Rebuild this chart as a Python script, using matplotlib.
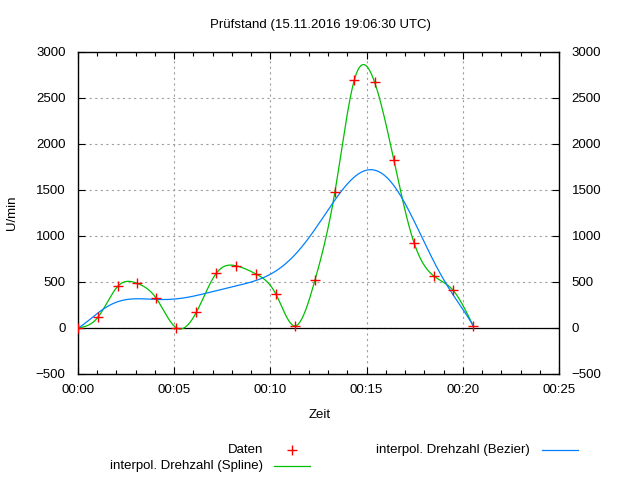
import math
import numpy as np
import matplotlib
matplotlib.use('Agg')
import matplotlib.pyplot as plt
from matplotlib.lines import Line2D
from matplotlib.ticker import MultipleLocator, FuncFormatter

plt.rcParams['font.family'] = ['Liberation Sans', 'DejaVu Sans']

# Messwerte (Zeit in Sekunden, Drehzahl in U/min)
zeit_s = [0, 62, 124, 185, 244, 306, 369, 431, 493, 554, 617,
          676, 739, 801, 862, 925, 985, 1048, 1110, 1170, 1232]
drehzahl = [0, 116, 452, 484, 322, 3, 170, 593, 675, 588, 368,
            22, 520, 1473, 2697, 2669, 1823, 924, 563, 408, 25]

titel = 'Prüfstand (15.11.2016 19:06:30 UTC)'


def natural_spline(x, y, xs):
    # natuerlicher kubischer Spline wie gnuplot "smooth csplines"
    x = np.asarray(x, float)
    y = np.asarray(y, float)
    n = len(x)
    h = np.diff(x)
    A = np.zeros((n, n))
    b = np.zeros(n)
    A[0, 0] = 1
    A[-1, -1] = 1
    for i in range(1, n - 1):
        A[i, i - 1] = h[i - 1]
        A[i, i] = 2 * (h[i - 1] + h[i])
        A[i, i + 1] = h[i]
        b[i] = 6 * ((y[i + 1] - y[i]) / h[i] - (y[i] - y[i - 1]) / h[i - 1])
    M = np.linalg.solve(A, b)
    idx = np.clip(np.searchsorted(x, xs) - 1, 0, n - 2)
    x0, x1 = x[idx], x[idx + 1]
    hh = x1 - x0
    t0 = x1 - xs
    t1 = xs - x0
    return (M[idx] * t0**3 / (6 * hh) + M[idx + 1] * t1**3 / (6 * hh)
            + (y[idx] / hh - M[idx] * hh / 6) * t0
            + (y[idx + 1] / hh - M[idx + 1] * hh / 6) * t1)


def bezier(x, y, num=300):
    # Bezier-Kurve ueber alle Punkte wie gnuplot "smooth bezier"
    n = len(x) - 1
    t = np.linspace(0, 1, num)
    bx = np.zeros(num)
    by = np.zeros(num)
    for i in range(n + 1):
        w = math.comb(n, i) * t**i * (1 - t)**(n - i)
        bx += w * x[i]
        by += w * y[i]
    return bx, by


def main():
    t_min = np.array(zeit_s) / 60.0
    u = np.array(drehzahl, float)

    fig = plt.figure(figsize=(6.4, 4.8), dpi=100)
    ax = fig.add_axes([78 / 640, 1 - 374 / 480, 481 / 640, 322.3 / 480])

    ts = np.linspace(t_min[0], t_min[-1], 600)
    spline = natural_spline(t_min, u, ts)
    bx, by = bezier(t_min, u)

    ax.axhline(0, color='black', lw=0.9, zorder=2)
    ax.plot(ts, spline, color='#00c000', lw=0.9, zorder=3)
    ax.plot(bx, by, color='#0080ff', lw=0.9, zorder=3)
    ax.plot(t_min, u, linestyle='none', marker='+', color='#ff0000',
            markersize=6.5, mew=1.0, zorder=4)

    ax.set_xlim(0, 25)
    ax.set_ylim(-500, 3000)
    ax.xaxis.set_major_locator(MultipleLocator(5))
    ax.xaxis.set_minor_locator(MultipleLocator(1))
    ax.yaxis.set_major_locator(MultipleLocator(500))
    ax.xaxis.set_major_formatter(FuncFormatter(
        lambda v, p: '%02d:%02d' % (int(v // 60), int(round(v % 60)))))

    ax.grid(True, which='major', color='#a0a0a0', linestyle=(0, (2, 3)), lw=0.8,
            zorder=1)
    ax.tick_params(which='both', direction='in', top=True, right=True,
                   labelright=True, labelsize=9.5, width=0.8)
    ax.tick_params(axis='y', which='major', length=5, pad=9)
    ax.tick_params(axis='x', which='major', length=5, pad=7)
    ax.tick_params(which='minor', length=3)
    for s in ax.spines.values():
        s.set_linewidth(1.0)

    fig.text(0.5, 1 - 25 / 480, titel, ha='center', va='center', fontsize=9.5)
    fig.text(320 / 640, 1 - 415 / 480, 'Zeit', ha='center', va='center', fontsize=9.5)
    fig.text(12 / 640, 1 - 213 / 480, 'U/min', ha='center', va='center',
             rotation=90, fontsize=9.5)

    # Legende wie bei gnuplot unten
    y1 = 1 - 450 / 480
    y2 = 1 - 466 / 480
    fig.text(263 / 640, y1, 'Daten', ha='right', va='center', fontsize=9.5)
    fig.add_artist(Line2D([292 / 640], [y1], transform=fig.transFigure,
                          marker='+', color='#ff0000', markersize=6.5, mew=1.0))
    fig.text(263 / 640, y2, 'interpol. Drehzahl (Spline)', ha='right',
             va='center', fontsize=9.5)
    fig.add_artist(Line2D([274 / 640, 310 / 640], [y2, y2],
                          transform=fig.transFigure, color='#00c000', lw=0.9))
    fig.text(530 / 640, y1, 'interpol. Drehzahl (Bezier)', ha='right',
             va='center', fontsize=9.5)
    fig.add_artist(Line2D([542 / 640, 578 / 640], [y1, y1],
                          transform=fig.transFigure, color='#0080ff', lw=0.9))

    fig.savefig('out.png', dpi=100)


if __name__ == '__main__':
    main()
